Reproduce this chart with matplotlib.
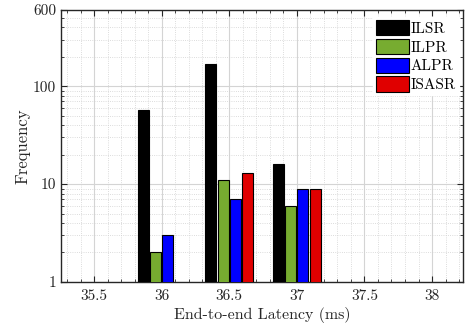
import numpy as np
import matplotlib
matplotlib.use('Agg')
import matplotlib.pyplot as plt
from matplotlib.patches import Patch
from matplotlib.ticker import FixedLocator, MultipleLocator, LogLocator, NullFormatter

plt.rcParams['font.family'] = 'serif'
plt.rcParams['font.serif'] = ['cmr10', 'DejaVu Serif']
plt.rcParams['axes.formatter.use_mathtext'] = True
plt.rcParams['mathtext.fontset'] = 'cm'

# Latency bins (ms) and per-scheme frequency counts
latency = [36.0, 36.5, 37.0]
schemes = ['ILSR', 'ILPR', 'ALPR', 'ISASR']
ilsr = [57, 170, 16]
ilpr = [2, 11, 6]
alpr = [3, 7, 9]
isasr = [0, 13, 9]
colors = ['#000000', '#77AC30', '#0000FF', '#E00000']

x_ticks = [35.5, 36, 36.5, 37, 37.5, 38]
x_tick_labels = ['35.5', '36', '36.5', '37', '37.5', '38']
y_ticks = [1, 10, 100, 600]
y_tick_labels = ['1', '10', '100', '600']

fig = plt.figure(figsize=(4.65, 3.27), dpi=100)
ax = fig.add_axes([0.131, 0.138, 0.865, 0.831])

step = 0.0907
width = 0.081
series = [ilsr, ilpr, alpr, isasr]
x = np.array(latency)
for k, (vals, col) in enumerate(zip(series, colors)):
    vals = np.array(vals, dtype=float)
    mask = vals > 0
    offs = (k - 1.5) * step
    ax.bar(x[mask] + offs, vals[mask], width=width, bottom=1e-3, color=col,
           edgecolor='black', linewidth=0.8, zorder=3)

ax.set_yscale('log')
ax.set_ylim(1, 600)
ax.set_xlim(35.255, 38.23)

ax.set_xticks(x_ticks)
ax.set_xticklabels(x_tick_labels)
ax.xaxis.set_minor_locator(MultipleLocator(0.1))
ax.yaxis.set_major_locator(FixedLocator(y_ticks))
ax.set_yticklabels(y_tick_labels)
ax.yaxis.set_minor_locator(LogLocator(base=10, subs=np.arange(2, 10)))
ax.yaxis.set_minor_formatter(NullFormatter())

ax.grid(True, which='major', color='#d4d4d4', linewidth=0.8, linestyle='-', zorder=0)
ax.grid(True, which='minor', color='#d0d0d0', linewidth=0.6, linestyle=':', zorder=0)
ax.set_axisbelow(True)

ax.tick_params(which='both', direction='in', top=True, right=True,
               colors='#262626', labelcolor='#262626', labelsize=11)
ax.tick_params(which='major', length=4)
ax.tick_params(which='minor', length=2)
ax.tick_params(axis='x', pad=5)
for s in ax.spines.values():
    s.set_color('#262626')
    s.set_linewidth(1.0)

ax.set_xlabel('End-to-end Latency (ms)', fontsize=11.5, color='#262626', labelpad=3)
ax.set_ylabel('Frequency', fontsize=12, color='#262626', labelpad=2)

handles = [Patch(facecolor=c, edgecolor='black', linewidth=0.8) for c in colors]
ax.legend(handles, schemes, loc='upper right', bbox_to_anchor=(0.99, 0.975),
          fontsize=11, frameon=True,
          facecolor='white', edgecolor='white', framealpha=1, fancybox=False,
          handlelength=2.2, handleheight=1.15, handletextpad=0.1,
          labelspacing=0.2, borderaxespad=0.0, borderpad=0.2)

fig.savefig('out.png', dpi=100)
